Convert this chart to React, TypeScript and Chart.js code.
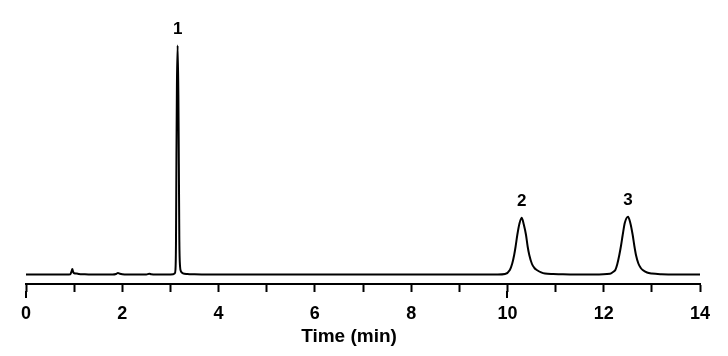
import React, { useEffect, useRef } from "react";
import { Chart, registerables } from "chart.js";

Chart.register(...registerables);

// Chromatogram trace: retention time (min) and detector signal (arbitrary units, baseline = 0)
const traceTimes = [
  0.0, 0.5, 0.85, 0.92, 0.945, 0.962, 0.98, 1.0, 1.05, 1.1, 1.2, 1.3,
  1.8, 1.87, 1.91, 1.95, 2.0, 2.1,
  2.5, 2.56, 2.6, 2.7,
  2.95, 3.06, 3.09, 3.105, 3.115, 3.125, 3.135, 3.15, 3.165, 3.175, 3.185, 3.2, 3.22, 3.26, 3.35, 3.5, 3.8,
  9.8, 9.95, 10.05, 10.1, 10.14, 10.17, 10.205, 10.25, 10.296, 10.34, 10.386, 10.42, 10.454, 10.51, 10.56, 10.61, 10.7, 10.78, 10.95, 11.1, 11.3,
  11.8, 12.13, 12.2, 12.241, 12.28, 12.324, 12.36, 12.394, 12.44, 12.505, 12.55, 12.602, 12.635, 12.67, 12.72, 12.77, 12.81, 12.9, 13.0, 13.2, 13.5, 14.0,
];
const traceSignal = [
  0, 0, 0, 0.3, 3, 5.5, 2.5, 1.2, 1.0, 0.5, 0.2, 0,
  0, 0.5, 1.5, 0.8, 0.3, 0,
  0, 0.8, 0.3, 0,
  0, 0.3, 1.2, 5, 30, 120, 190, 229, 180, 110, 35, 8, 3, 1.2, 0.5, 0.2, 0,
  0, 0.5, 4.5, 11, 19.5, 28, 39.5, 51, 56.8, 50, 39.5, 28, 19.5, 10.5, 6.5, 4.5, 2.2, 1, 0.4, 0.2, 0,
  0, 0.8, 2.8, 4.5, 10, 19.5, 29, 39.5, 52, 57.8, 52, 39.5, 29, 19.5, 11, 6.5, 4.5, 2, 1, 0.3, 0, 0,
];

// Peak annotations
const peakTimes = [3.15, 10.296, 12.505];
const peakHeights = [229, 56.8, 57.8];
const peakLabels = ["1", "2", "3"];

// Axis
const xMin = 0;
const xMax = 14;
const xStep = 1;
const labeledEvery = 2;
const longTickValues = [0, 10];
const xTitle = "Time (min)";
const yMin = -9.5;
const yMax = 254.5;

const FONT = "'Liberation Sans', Arial, Helvetica, sans-serif";

const peakLabelPlugin = {
  id: "peakLabels",
  afterDatasetsDraw(chart: any) {
    const { ctx, scales } = chart;
    const xs = scales.x;
    const ys = scales.y;
    ctx.save();
    ctx.fillStyle = "#000";
    ctx.font = `bold 17px ${FONT}`;
    ctx.textAlign = "center";
    ctx.textBaseline = "middle";
    peakTimes.forEach((t, i) => {
      const px = xs.getPixelForValue(t);
      const py = ys.getPixelForValue(peakHeights[i]) - 16.5;
      ctx.fillText(peakLabels[i], px, py);
    });
    ctx.restore();
  },
};

const axisExtrasPlugin = {
  id: "axisExtras",
  afterDraw(chart: any) {
    const { ctx, scales, chartArea } = chart;
    const xs = scales.x;
    ctx.save();
    ctx.strokeStyle = "#000";
    ctx.lineWidth = 2;
    longTickValues.forEach((v) => {
      const px = Math.round(xs.getPixelForValue(v));
      ctx.beginPath();
      ctx.moveTo(px, xs.top + 7);
      ctx.lineTo(px, xs.top + 14);
      ctx.stroke();
    });
    ctx.fillStyle = "#000";
    ctx.font = `bold 19px ${FONT}`;
    ctx.textAlign = "center";
    ctx.textBaseline = "middle";
    ctx.fillText(xTitle, (chartArea.left + chartArea.right) / 2 - 14, xs.bottom - 19);
    ctx.restore();
  },
};

export default function App() {
  const canvasRef = useRef<HTMLCanvasElement | null>(null);

  useEffect(() => {
    if (!canvasRef.current) return;
    const data = traceTimes.map((t, i) => ({ x: t, y: traceSignal[i] }));
    const chart = new Chart(canvasRef.current, {
      type: "line",
      data: {
        datasets: [
          {
            data,
            borderColor: "#000",
            borderWidth: 2,
            pointRadius: 0,
            fill: false,
            cubicInterpolationMode: "monotone",
          },
        ],
      },
      options: {
        animation: false,
        responsive: false,
        events: [],
        layout: { padding: { top: 20, left: 26, right: 28, bottom: 0 } },
        plugins: {
          legend: { display: false },
          tooltip: { enabled: false },
        },
        scales: {
          x: {
            type: "linear",
            min: xMin,
            max: xMax,
            offset: false,
            afterFit(scale: any) {
              scale.height = 72;
            },
            border: { display: true, color: "#000", width: 2 },
            grid: {
              drawOnChartArea: false,
              drawTicks: true,
              tickLength: 8,
              tickWidth: 2,
              tickColor: "#000",
            },
            ticks: {
              stepSize: xStep,
              autoSkip: false,
              maxRotation: 0,
              padding: 11,
              color: "#000",
              font: { family: FONT, size: 18, weight: "bold" },
              callback: (value: any) =>
                Number(value) % labeledEvery === 0 ? String(value) : "",
            },
            title: { display: false },
          },
          y: {
            type: "linear",
            display: false,
            min: yMin,
            max: yMax,
          },
        },
      },
      plugins: [peakLabelPlugin, axisExtrasPlugin],
    } as any);
    return () => chart.destroy();
  }, []);

  return (
    <div style={{ position: "fixed", left: 0, top: 0, width: 728, height: 356, background: "#fff" }}>
      <canvas ref={canvasRef} width={728} height={356} style={{ display: "block" }} />
    </div>
  );
}
